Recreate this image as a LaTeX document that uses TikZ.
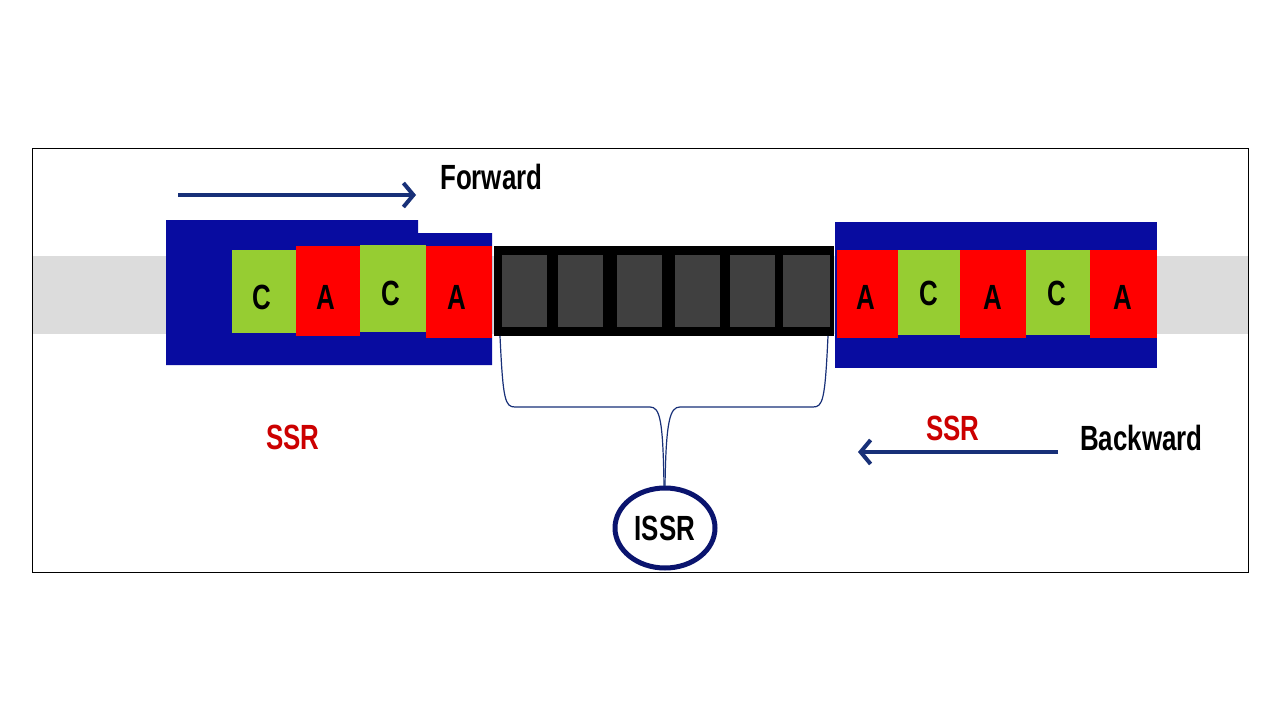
\documentclass[tikz,border=0pt]{standalone}
\usepackage{fontspec}
\setmainfont{Liberation Sans}[FakeStretch=0.74]
\usetikzlibrary{arrows.meta,shapes.geometric}
\definecolor{dblue}{RGB}{8,12,160}
\definecolor{navy}{RGB}{24,48,120}
\definecolor{ringc}{RGB}{10,20,110}
\definecolor{lime}{RGB}{150,205,50}
\definecolor{sq}{RGB}{64,64,64}
\definecolor{band}{RGB}{220,220,220}
\begin{document}
\begin{tikzpicture}[x=1pt,y=-1pt,
  base/.style={inner sep=0pt,font=\fontsize{35}{35}\selectfont\bfseries},
  gbox/.style={fill=lime},
  rbox/.style={fill=red},
  sqs/.style={fill=sq},
  arr/.style={navy,line width=4pt,-{Straight Barb[length=10pt,width=24pt,line width=4pt]}},
  brace/.style={navy,line width=1.2pt}]
\useasboundingbox (0,0) rectangle (1280,720);
\fill[white] (0,0) rectangle (1280,720);
\fill[band] (32,256) rectangle (1248,334);
\draw[line width=0.8pt] (32,148) rectangle (1248,572);
% left block
\fill[dblue] (166,220) -- (418,220) -- (418,233) -- (492,233) -- (492,365) -- (166,365) -- cycle;
\fill[gbox] (232,250) rectangle (296,333);
\fill[rbox] (296,246) rectangle (360,336);
\fill[gbox] (360,245) rectangle (426,332);
\fill[rbox] (426,246) rectangle (492,338);
\node[base] (l1) at (262,297) {C};
\node[base] (l2) at (326,297) {A};
\node[base] (l3) at (391,293) {C};
\node[base] (l4) at (457,297) {A};
% middle
\fill[black] (494,246) rectangle (834,336);
\foreach \a/\b in {502/547,558/603,617/662,675/720,730/775,783/830}
  \fill[sqs] (\a,255) rectangle (\b,327);
% right block
\fill[dblue] (835,222) rectangle (1157,368);
\fill[rbox] (837,250) rectangle (898,338);
\fill[gbox] (898,250) rectangle (960,335);
\fill[rbox] (960,250) rectangle (1026,338);
\fill[gbox] (1026,250) rectangle (1090,335);
\fill[rbox] (1090,250) rectangle (1157,338);
\node[base] (r1) at (866,297) {A};
\node[base] (r2) at (929,293) {C};
\node[base] (r3) at (993,297) {A};
\node[base] (r4) at (1057,293) {C};
\node[base] (r5) at (1123,297) {A};
% brace
\coordinate (bl) at (500,336);
\coordinate (br) at (828,336);
\node[draw=ringc,line width=5pt,ellipse,minimum width=100pt,minimum height=80pt,inner sep=0pt,font=\fontsize{35}{35}\selectfont\bfseries] (issr) at (665,528) {ISSR};
\draw[brace] (bl) .. controls (503,400) and (505,407) .. (515,407) -- (650,407)
  .. controls (660,407) and (663,420) .. (664,486);
\draw[brace] (br) .. controls (825,400) and (823,407) .. (813,407) -- (680,407)
  .. controls (670,407) and (666,420) .. (665,486);
% arrows and labels
\coordinate (f1) at (178,195); \coordinate (f2) at (416,195);
\draw[arr] (f1) -- (f2);
\node[base,anchor=west] (fw) at (440,177) {Forward};
\coordinate (b1) at (1058,452); \coordinate (b2) at (858,452);
\draw[arr] (b1) -- (b2);
\node[base,anchor=west] (bw) at (1080,438) {Backward};
\node[base,text=red!80!black] (s1) at (293,437) {SSR};
\node[base,text=red!80!black] (s2) at (953,428) {SSR};
\end{tikzpicture}
\end{document}
